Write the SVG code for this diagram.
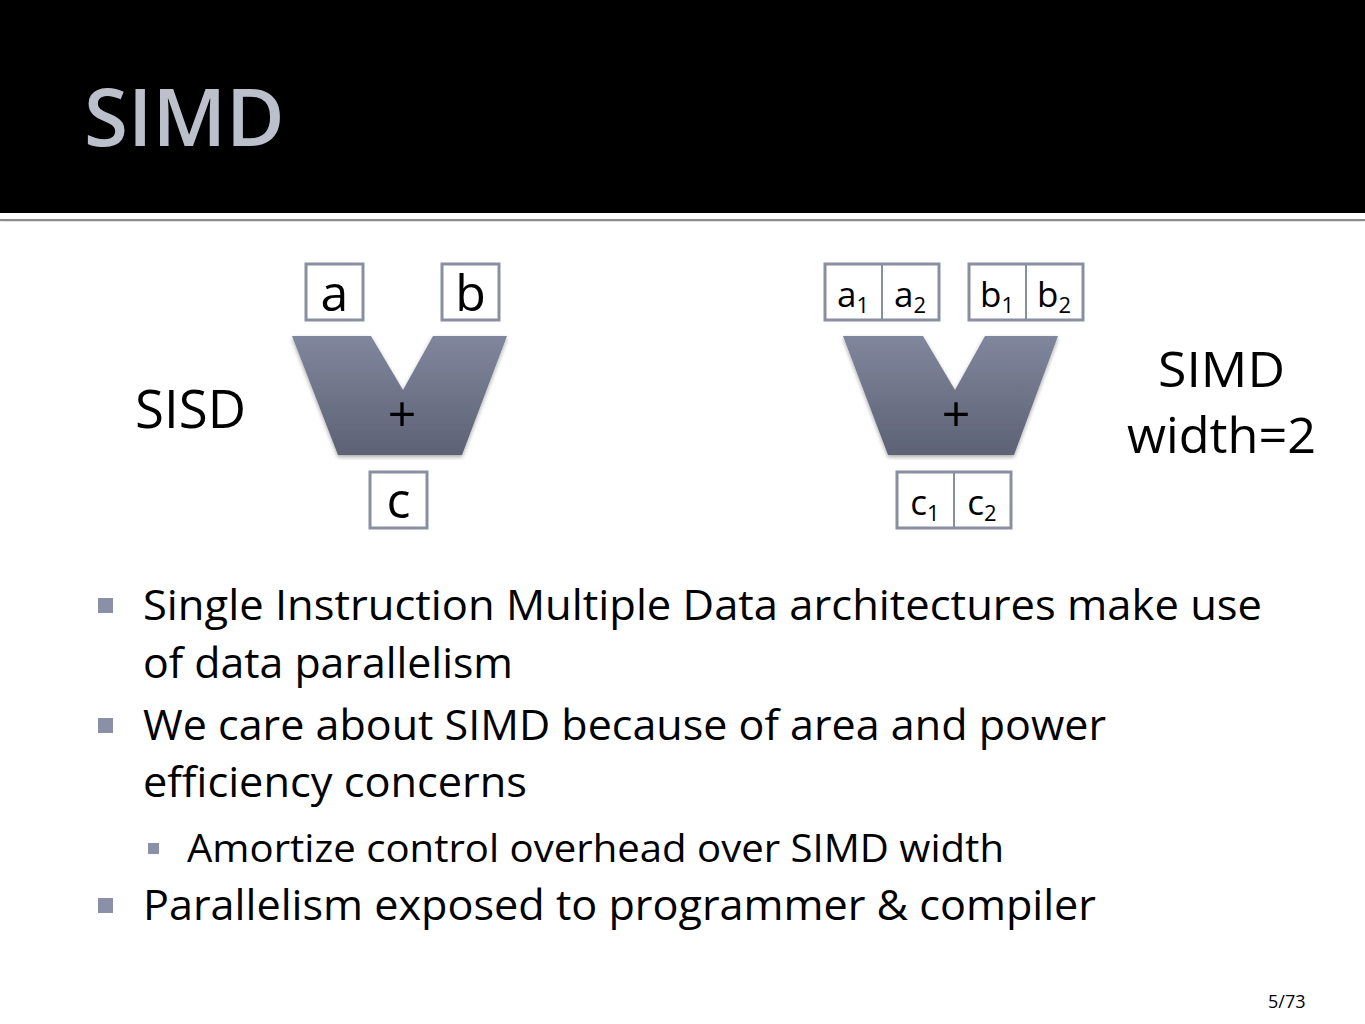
<svg xmlns="http://www.w3.org/2000/svg" width="1365" height="1024" viewBox="0 0 1365 1024">
<defs>
<linearGradient id="vg" x1="0" y1="0" x2="0" y2="1">
<stop offset="0" stop-color="#80869C"/>
<stop offset="1" stop-color="#5D6275"/>
</linearGradient>
<filter id="sh" x="-10%" y="-10%" width="120%" height="130%">
<feGaussianBlur in="SourceAlpha" stdDeviation="2"/>
<feOffset dx="0" dy="2" result="b"/>
<feComponentTransfer><feFuncA type="linear" slope="0.35"/></feComponentTransfer>
<feMerge><feMergeNode/><feMergeNode in="SourceGraphic"/></feMerge>
</filter>
</defs>
<style>
.box{fill:#fff;stroke:#8A8FA0;stroke-width:3}
.div{stroke:#8A8FA0;stroke-width:2}
.t{font-family:"Open Sans","Noto Sans","DejaVu Sans",sans-serif;fill:#000}
.big{font-size:50px}
.sub{font-size:35px}
.lbl{font-size:53px}
.lbl2{font-size:49px}
.body{font-size:42px}
.bul{fill:#8A90A6}
.vee{fill:url(#vg)}
</style>
<rect x="0" y="0" width="1365" height="1024" fill="#fff"/>
<g id="header">
<rect x="0" y="0" width="1365" height="213" fill="#000"/>
<rect x="0" y="219" width="1365" height="2" fill="#8C8C8C" filter="url(#sh)"/>
<text x="84" y="146" font-family="'Open Sans','Noto Sans',sans-serif" font-weight="600" font-size="80" fill="#BCC0CB">SIMD</text>
</g>
<g id="sisd-label"><text class="t lbl" x="135" y="428" textLength="111" lengthAdjust="spacingAndGlyphs">SISD</text></g>
<g id="simd-label">
<text class="t lbl2" x="1158" y="387" textLength="127" lengthAdjust="spacingAndGlyphs">SIMD</text>
<text class="t lbl2" x="1127" y="453" textLength="189" lengthAdjust="spacingAndGlyphs">width=2</text>
</g>
<g id="node-a"><rect class="box" x="306" y="264" width="57" height="56"/><text class="t big" x="334.5" y="311" text-anchor="middle">a</text></g>
<g id="node-b"><rect class="box" x="442" y="264" width="57" height="56"/><text class="t big" x="470.5" y="311" text-anchor="middle">b</text></g>
<g id="adder-sisd" filter="url(#sh)">
<polygon class="vee" points="292,336 371,336 403,390 433,336 507,336 462,455 338,455"/>
<text class="t" x="402" y="432" font-size="50" text-anchor="middle">+</text>
</g>
<g id="node-c"><rect class="box" x="370" y="472" width="57" height="56"/><text class="t big" x="398.5" y="518" text-anchor="middle">c</text></g>
<g id="node-a12">
<rect class="box" x="825" y="264" width="114" height="56"/>
<line class="div" x1="882" y1="264" x2="882" y2="320"/>
<text class="t sub" x="853" y="307" text-anchor="middle">a<tspan font-size="22" dy="6">1</tspan></text>
<text class="t sub" x="910" y="307" text-anchor="middle">a<tspan font-size="22" dy="6">2</tspan></text>
</g>
<g id="node-b12">
<rect class="box" x="969" y="264" width="114" height="56"/>
<line class="div" x1="1026" y1="264" x2="1026" y2="320"/>
<text class="t sub" x="997" y="307" text-anchor="middle">b<tspan font-size="22" dy="6">1</tspan></text>
<text class="t sub" x="1054" y="307" text-anchor="middle">b<tspan font-size="22" dy="6">2</tspan></text>
</g>
<g id="adder-simd" filter="url(#sh)">
<polygon class="vee" points="843,336 923,336 955,390 985,336 1058,336 1014,455 888,455"/>
<text class="t" x="956" y="432" font-size="50" text-anchor="middle">+</text>
</g>
<g id="node-c12">
<rect class="box" x="897" y="472" width="114" height="56"/>
<line class="div" x1="954" y1="472" x2="954" y2="528"/>
<text class="t sub" x="925" y="515" text-anchor="middle">c<tspan font-size="22" dy="6">1</tspan></text>
<text class="t sub" x="982" y="515" text-anchor="middle">c<tspan font-size="22" dy="6">2</tspan></text>
</g>
<g id="bullets">
<rect class="bul" x="98" y="598" width="15" height="15"/>
<text class="t body" x="143" y="620" textLength="1119" lengthAdjust="spacingAndGlyphs">Single Instruction Multiple Data architectures make use</text>
<text class="t body" x="143" y="678" textLength="370" lengthAdjust="spacingAndGlyphs">of data parallelism</text>
<rect class="bul" x="98" y="718" width="15" height="15"/>
<text class="t body" x="143" y="740" textLength="963" lengthAdjust="spacingAndGlyphs">We care about SIMD because of area and power</text>
<text class="t body" x="143" y="797" textLength="384" lengthAdjust="spacingAndGlyphs">efficiency concerns</text>
<rect class="bul" x="148" y="843" width="11" height="11"/>
<text class="t" font-size="38" x="187" y="862" textLength="817" lengthAdjust="spacingAndGlyphs">Amortize control overhead over SIMD width</text>
<rect class="bul" x="98" y="898" width="15" height="15"/>
<text class="t body" x="143" y="920" textLength="953" lengthAdjust="spacingAndGlyphs">Parallelism exposed to programmer &amp; compiler</text>
</g>
<g id="page"><text class="t" font-size="18" x="1268" y="1008">5/73</text></g>
</svg>
